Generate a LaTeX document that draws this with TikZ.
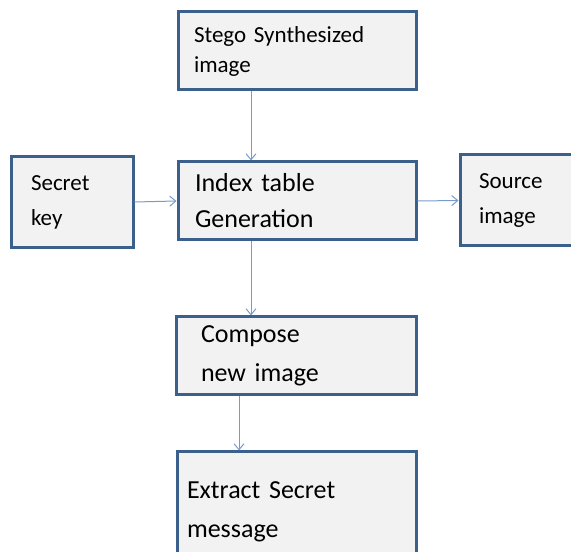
\documentclass[tikz,border=0pt]{standalone}
\usepackage{fontspec}
\setmainfont{Carlito}
\usetikzlibrary{arrows.meta}
\definecolor{boxedge}{RGB}{60,96,140}
\definecolor{boxfill}{RGB}{242,242,242}
\definecolor{linkblue}{RGB}{120,155,205}
\tikzset{stepbox/.style={
        rectangle, draw=boxedge, fill=boxfill, line width=3pt,
        align=left, inner ysep=0pt
    },
    link/.style={
        draw=linkblue, line width=1pt,
        -{Straight Barb[length=6pt,width=10pt,line width=1pt]}
    }
}

\begin{document}
\begin{tikzpicture}[x=1pt,y=1pt]
      \useasboundingbox (0,0) rectangle (571,552);
      \node[stepbox, minimum width=238pt, minimum height=78pt, text width=206pt, inner xsep=16pt,
        font=\fontsize{23}{30}\selectfont] (stego) at (297,501) {Stego Synthesized\\image};
      \node[stepbox, minimum width=122pt, minimum height=91pt, text width=82pt, inner xsep=20pt,
        font=\fontsize{23}{35}\selectfont] (secret) at (72,350) {Secret\\key};
      \node[stepbox, minimum width=238pt, minimum height=78pt, text width=204pt, inner xsep=17pt,
        font=\fontsize{26}{36}\selectfont] (index) at (297,351) {Index table\\Generation};
      \node[stepbox, minimum width=130pt, minimum height=91pt, text width=92pt, inner xsep=19pt,
        font=\fontsize{23}{35}\selectfont] (source) at (525,351.5) {Source\\image};
      \node[stepbox, minimum width=240pt, minimum height=78pt, text width=190pt, inner xsep=25pt,
        font=\fontsize{26}{39}\selectfont] (compose) at (296,196) {Compose\\new image};
      \node[stepbox, minimum width=239pt, minimum height=120pt, text width=219pt, inner xsep=10pt,
        font=\fontsize{26}{39}\selectfont] (extract) at (296.5,40) {Extract Secret\\message};

      \draw[link] ([xshift=-46pt]stego.south) -- ([xshift=-46pt]index.north);
      \draw[link] (secret.east) -- (index.west);
      \draw[link] (index.east) -- (source.west);
      \draw[link] ([xshift=-46pt]index.south) -- ([xshift=-45pt]compose.north);
      \draw[link] ([xshift=-57pt]compose.south) -- ([xshift=-57.5pt]extract.north);
    \end{tikzpicture}
\end{document}
